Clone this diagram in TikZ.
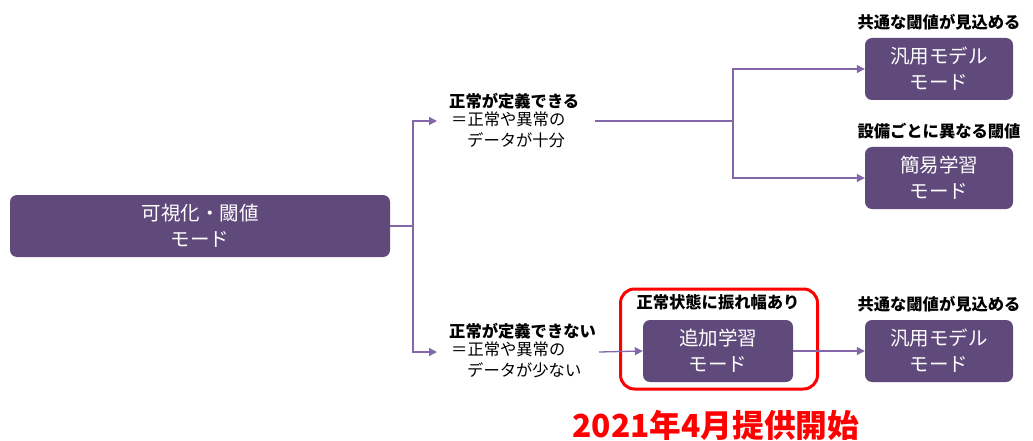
\documentclass[tikz,border=0pt]{standalone}
\usepackage{fontspec}
\setmainfont{Noto Sans CJK JP}
\usetikzlibrary{arrows.meta}
\definecolor{boxpurple}{HTML}{5F4A7B}
\definecolor{linepurple}{HTML}{8367A8}
\definecolor{hired}{HTML}{FF0000}
\tikzset{
  modebox/.style={draw=none, fill=boxpurple, rounded corners=7pt, text=white,
    font=\fontsize{19.5}{26}\selectfont, align=center, inner sep=0pt},
  lbl/.style={font=\fontsize{16.3}{20}\selectfont\bfseries, text=black, inner sep=0pt},
  desc/.style={font=\fontsize{16.3}{20.5}\selectfont, text=black, align=left, inner sep=0pt},
  conn/.style={draw=linepurple, line width=1.3pt},
  arr/.style={conn, -{Triangle[length=8pt,width=8pt]}},
}
\begin{document}
\begin{tikzpicture}[x=1pt,y=-1pt]
\useasboundingbox (0,0) rectangle (1033,441);
% main box
\node[modebox, minimum width=380pt, minimum height=62pt] (main) at (200,226) {可視化・閾値\\モード};
% right boxes
\node[modebox, minimum width=148pt, minimum height=62pt] (gen1) at (939,69) {汎用モデル\\モード};
\node[modebox, minimum width=148pt, minimum height=62pt] (simple) at (939,178) {簡易学習\\モード};
\node[modebox, minimum width=150pt, minimum height=62pt] (add) at (718,351) {追加学習\\モード};
\node[modebox, minimum width=148pt, minimum height=62pt] (gen2) at (939,351) {汎用モデル\\モード};
% labels above boxes
\node[lbl] (l1) at (939,22) {共通な閾値が見込める};
\node[lbl] (l2) at (939,131) {設備ごとに異なる閾値};
\node[lbl] (l3) at (718,302) {正常状態に振れ幅あり};
\node[lbl] (l4) at (939,304) {共通な閾値が見込める};
% branch texts
\node[lbl, anchor=west] (ok) at (449,101) {正常が定義できる};
\node[desc, anchor=north west] (okd) at (451,112) {＝正常や異常の\\\hspace*{16pt}データが十分};
\node[lbl, anchor=west] (ng) at (449,331) {正常が定義できない};
\node[desc, anchor=north west] (ngd) at (451,342) {＝正常や異常の\\\hspace*{16pt}データが少ない};
% red frame and date
\node[draw=hired, line width=3pt, rounded corners=14pt, minimum width=197pt, minimum height=100pt, inner sep=0pt] (frame) at (719,339) {};
\node[font=\fontsize{31.7}{36}\selectfont\bfseries, text=hired, inner sep=0pt] (date) at (716,425) {2021年4月提供開始};
% coordinates
\coordinate (trunk) at (413,226);
\coordinate (tup) at (413,121);
\coordinate (tdn) at (413,352);
\coordinate (okin) at (437,121);
\coordinate (ngin) at (437,352);
\coordinate (okout) at (595,121);
\coordinate (split) at (733,121);
\coordinate (ngout) at (599,352);
% connectors
\draw[conn] (main.east) -- (trunk);
\draw[arr] (trunk) -- (tup) -- (okin);
\draw[arr] (trunk) -- (tdn) -- (ngin);
\draw[conn] (okout) -- (split);
\draw[arr] (split) |- (gen1.west);
\draw[arr] (split) |- (simple.west);
\draw[arr] (ngout) -- (add.west);
\draw[arr] (add.east) -- (gen2.west);
\end{tikzpicture}
\end{document}
